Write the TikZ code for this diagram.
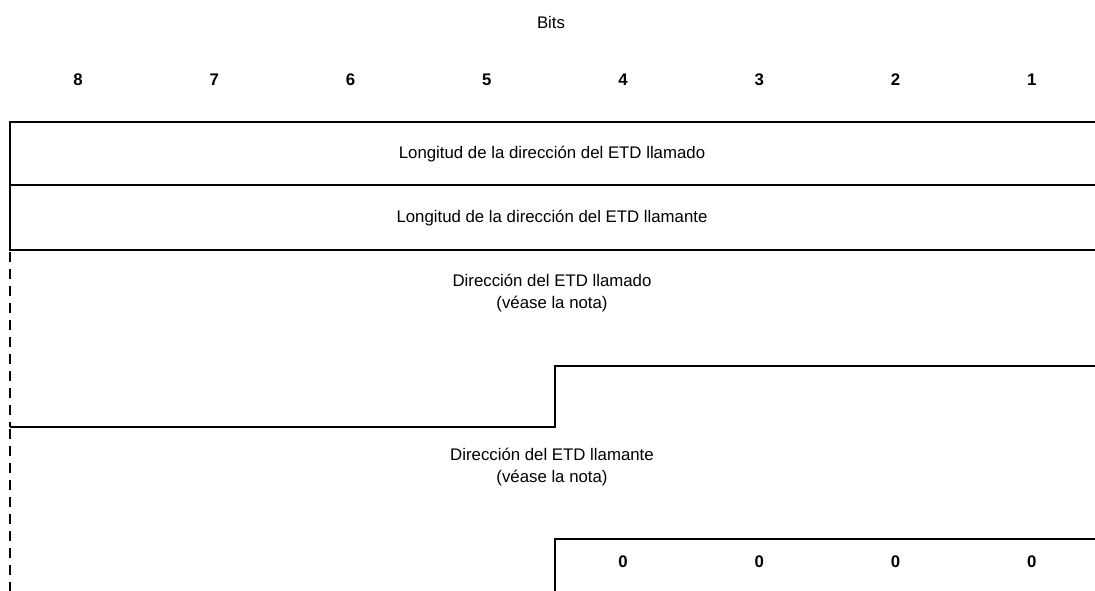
\documentclass[tikz,border=0pt]{standalone}
\usepackage{fontspec}
\setmainfont{Liberation Sans}
\begin{document}
\begin{tikzpicture}[x=1pt,y=-1pt,
  rule/.style={line width=1.3pt},
  dashrule/.style={line width=1.3pt,dash pattern=on 10pt off 7pt},
  lbl/.style={font=\fontsize{16.8}{22}\selectfont,inner sep=0pt,align=center},
  bit/.style={font=\fontsize{16.8}{22}\selectfont\bfseries,inner sep=0pt}]
\useasboundingbox (0,0) rectangle (1095,591);
% header
\node[lbl] (bits) at (551,22) {Bits};
\foreach \n [count=\i from 0] in {8,7,6,5,4,3,2,1}
  \node[bit] (b\n) at ({78+136.25*\i},80) {\n};
% length fields
\draw[rule] (1095,122) -- (10,122) -- (10,250) -- (1095,250);
\draw[rule] (10,185) -- (1095,185);
\node[lbl] (lcd) at (552,154) {Longitud de la dirección del ETD llamado};
\node[lbl] (lcg) at (552,218) {Longitud de la dirección del ETD llamante};
% called address
\draw[dashrule] (10,252) -- (10,427);
\draw[rule] (10,427) -- (555,427) -- (555,366) -- (1095,366);
\node[lbl] (dcd) at (552,293) {Dirección del ETD llamado\\(véase la nota)};
% calling address
\draw[dashrule] (10,429) -- (10,591);
\node[lbl] (dcg) at (552,467) {Dirección del ETD llamante\\(véase la nota)};
\draw[rule] (555,591) -- (555,539) -- (1095,539);
\foreach \i in {0,1,2,3}
  \node[bit] (z\i) at ({623+136.25*\i},562) {0};
\end{tikzpicture}
\end{document}
